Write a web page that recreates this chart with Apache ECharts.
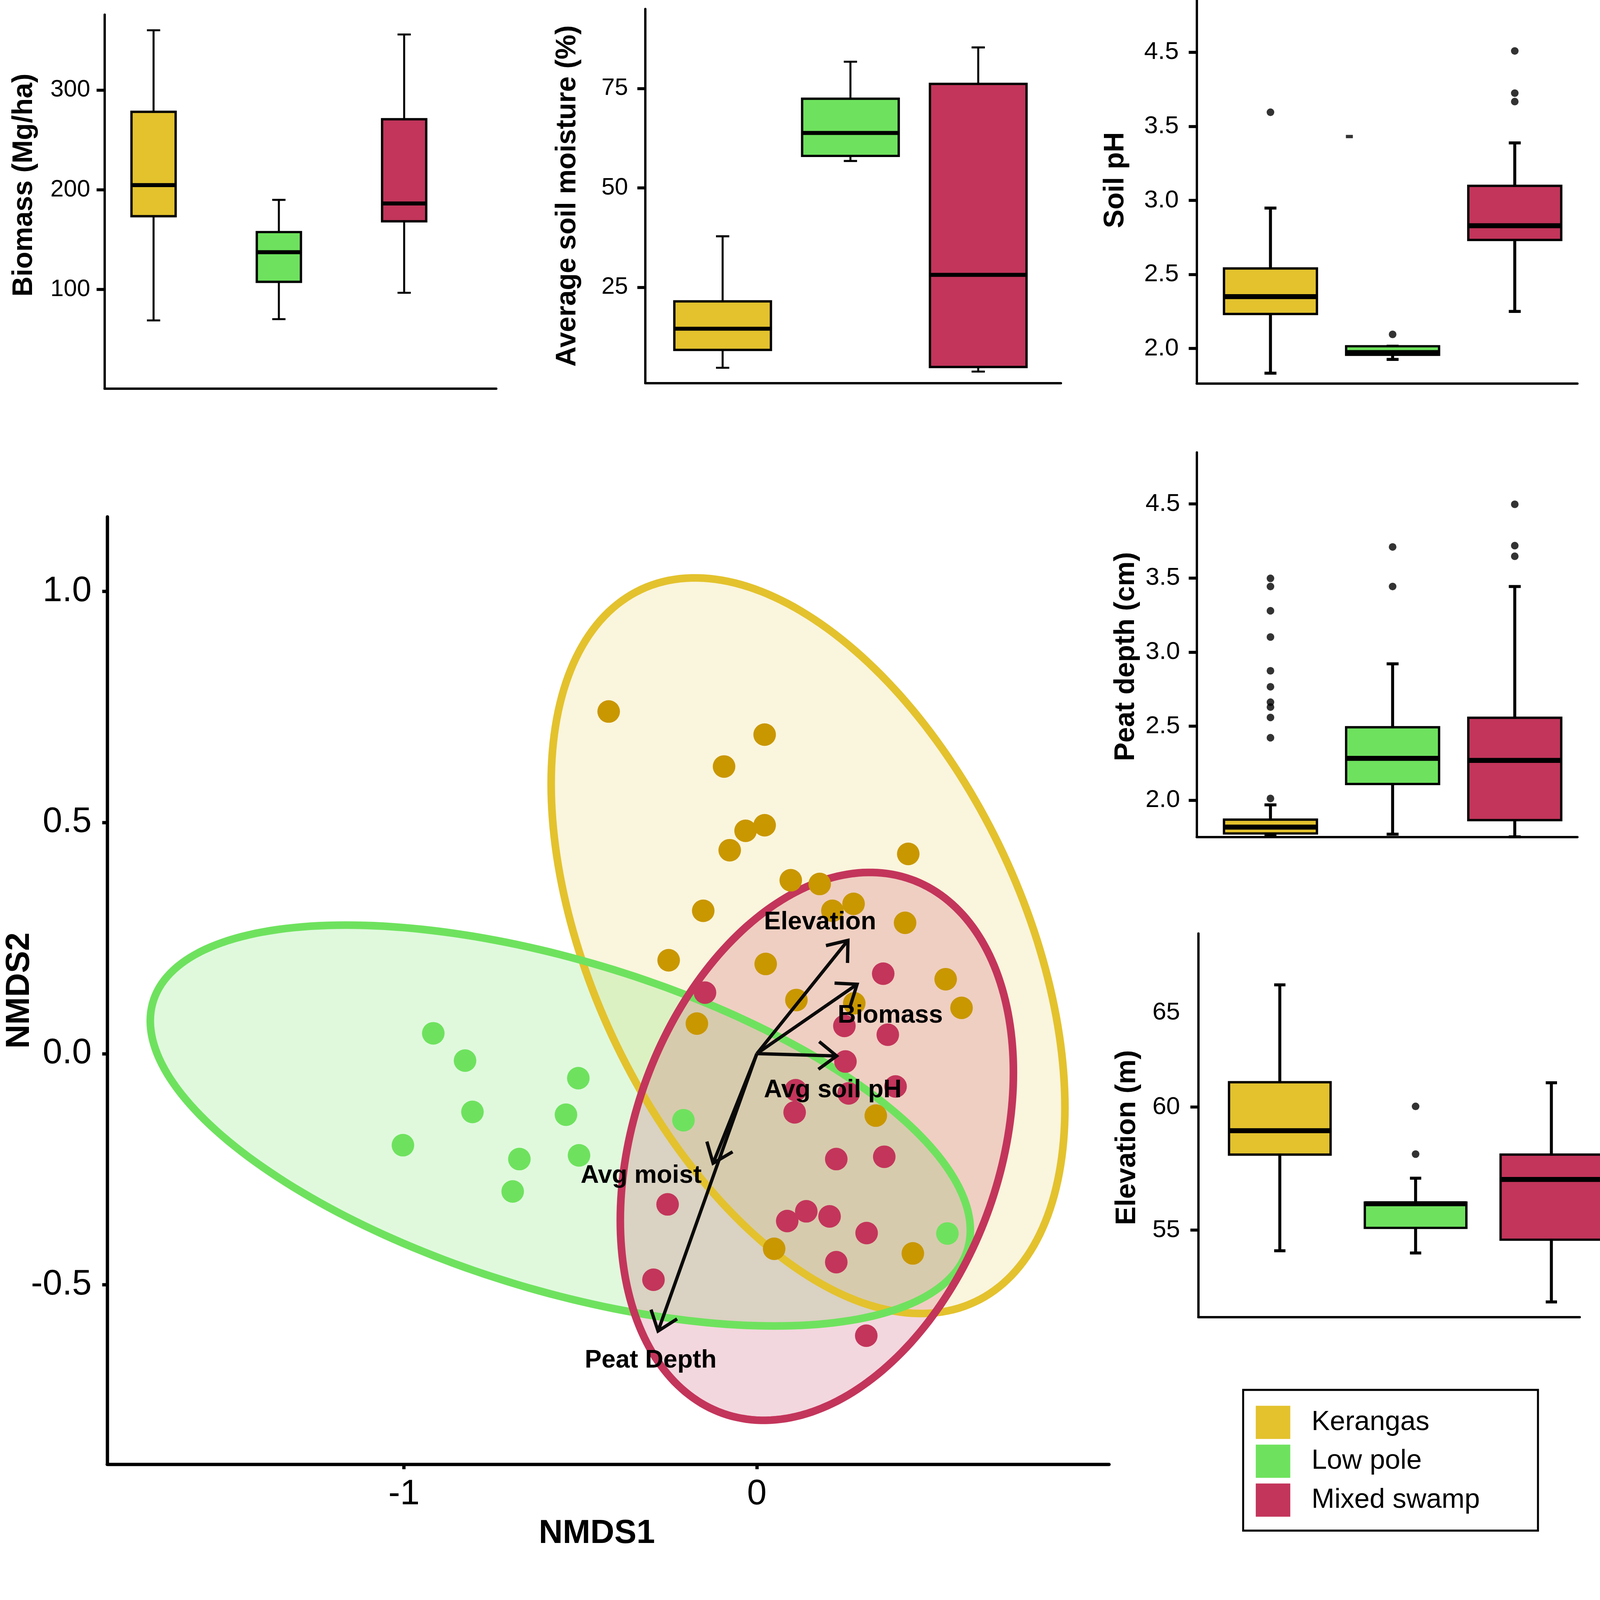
<!DOCTYPE html>
<html>
<head>
<meta charset="utf-8">
<script src="https://cdn.jsdelivr.net/npm/echarts@6/dist/echarts.min.js"></script>
<style>
  html, body { margin: 0; padding: 0; background: #fff; overflow: hidden; }
  #chart { width: 100vw; height: 100vh; }
</style>
</head>
<body>
<div id="chart"></div>
<script>
const groups = ['Kerangas', 'Low pole', 'Mixed swamp'];
const boxColors = ['#E3C22D', '#6EE25E', '#C3355B'];
const pointColors = ['#C99700', '#6EE25E', '#C3355B'];
const fillColors = ['rgba(227,194,45,0.16)', 'rgba(110,226,94,0.21)', 'rgba(195,53,91,0.2)'];

// box stats per group: [min, q1, median, q3, max]
const biomassStats = [[69, 173.5, 204.7, 278.2, 360], [70.3, 107.7, 137.4, 157.6, 189.9], [96.7, 168.4, 186.3, 270.8, 355.8]];
const moistureStats = [[4.78, 9.27, 14.6, 21.47, 37.84], [56.77, 58.05, 63.83, 72.43, 81.74], [3.82, 4.97, 28.14, 76.16, 85.33]];
const phStats = [[1.833, 2.233, 2.35, 2.54, 2.948], [1.926, 1.957, 1.972, 2.015, 2.015], [2.25, 2.733, 2.829, 3.098, 3.388]];
const peatStats = [[1.762, 1.776, 1.819, 1.869, 1.969], [1.771, 2.11, 2.283, 2.493, 2.921], [1.753, 1.866, 2.269, 2.557, 3.443]];
const elevationStats = [[54.16, 58.07, 59.04, 61.01, 64.97], [54.07, 55.09, 56.07, 56.12, 57.11], [52.08, 54.61, 57.06, 58.07, 60.99]];

// outliers: [group number, value]
const phOutliers = [[1, 3.595], [2, 2.095], [3, 4.009], [3, 3.724], [3, 3.667]];
const phStray = [[1.646, 3.431]];
const peatOutliers = [[1, 3.498], [1, 3.443], [1, 3.279], [1, 3.102], [1, 2.874], [1, 2.766], [1, 2.662], [1, 2.629], [1, 2.559], [1, 2.422], [1, 2.012],
  [2, 3.71], [2, 3.443], [3, 3.998], [3, 3.719], [3, 3.647]];
const elevationOutliers = [[2, 60.03], [2, 58.09]];

// tick positions and labels
const biomassTicks = [100, 200, 300];
const biomassTickLabels = ['100', '200', '300'];
const moistureTicks = [25, 50, 75];
const moistureTickLabels = ['25', '50', '75'];
const phTicks = [2, 2.5, 3, 3.5, 4];
const phTickLabels = ['2.0', '2.5', '3.0', '3.5', '4.5'];
const peatTicks = [2, 2.5, 3, 3.5, 4];
const peatTickLabels = ['2.0', '2.5', '3.0', '3.5', '4.5'];
const elevationTicks = [55, 60];
const elevationLabelPos = [55, 60, 63.84];
const elevationTickLabels = ['55', '60', '65'];
const nmds1Ticks = [-1, 0];
const nmds1TickLabels = ['-1', '0'];
const nmds2Ticks = [-0.5, 0, 0.5, 1];
const nmds2TickLabels = ['-0.5', '0.0', '0.5', '1.0'];

// NMDS site scores
const kerangasPts = [[-0.420, 0.740], [0.022, 0.690], [-0.093, 0.621], [-0.032, 0.482], [0.022, 0.494], [-0.077, 0.440], [0.429, 0.432],
  [0.096, 0.375], [0.178, 0.367], [-0.152, 0.309], [0.214, 0.309], [0.274, 0.324], [0.420, 0.283], [-0.250, 0.202], [0.025, 0.194],
  [0.112, 0.116], [0.276, 0.109], [0.535, 0.161], [0.580, 0.099], [-0.170, 0.065], [0.337, -0.134], [0.049, -0.422], [0.442, -0.432]];
const lowPolePts = [[-0.917, 0.044], [-0.827, -0.015], [-0.506, -0.053], [-0.806, -0.126], [-0.541, -0.132], [-1.003, -0.198],
  [-0.673, -0.228], [-0.504, -0.220], [-0.692, -0.298], [-0.208, -0.144], [0.540, -0.389]];
const mixedSwampPts = [[-0.147, 0.132], [0.358, 0.173], [0.248, 0.060], [0.371, 0.041], [0.251, -0.017], [0.110, -0.079], [0.260, -0.086],
  [0.393, -0.071], [0.107, -0.127], [0.225, -0.228], [0.361, -0.223], [-0.253, -0.326], [0.086, -0.362], [0.140, -0.341], [0.206, -0.352],
  [0.311, -0.388], [0.225, -0.451], [-0.293, -0.489], [0.310, -0.610]];

// ellipses: [centre x, centre y, sd x, sd y, correlation]
const kerangasEllipse = [0.145, 0.2335, 0.728, 0.7955, -0.44];
const lowPoleEllipse = [-0.557, -0.1555, 1.162, 0.4335, -0.5225];
const mixedSwampEllipse = [0.170, -0.2005, 0.557, 0.5925, 0.27];

// fitted environmental vectors
const vectorNames = ['Elevation', 'Biomass', 'Avg soil pH', 'Avg moist', 'Peat Depth'];
const vectorOrigin = [0, 0];
const vectorTips = [[0.258, 0.245], [0.284, 0.150], [0.226, -0.005], [-0.124, -0.237], [-0.280, -0.600]];
const vectorLabelPos = [[0.179, 0.284], [0.378, 0.082], [0.215, -0.079], [-0.328, -0.264], [-0.301, -0.664]];

const FONT = 'Liberation Sans';

const dom = document.getElementById('chart');
// the layout below is written for a 4820 x 4690 page; scale it to the real viewport
const k = Math.min(dom.clientWidth / 4820, dom.clientHeight / 4690);
const S = v => v * k;

const panels = [
  { grid: [315, 44, 1180, 1127], x: [0.609, 3.735], y: [0.5, 375.7], stats: biomassStats, outliers: [],
    ticks: biomassTicks, labelPos: biomassTicks, labels: biomassTickLabels, name: 'Biomass (Mg/ha)', nameGap: 200, shift: -50,
    fs: 72, margin: 43, boxW: 133, capW: 40, whisker: 6, median: 12 },
  { grid: [1944, 27, 1252, 1127], x: [0.395, 3.647], y: [0.93, 95], stats: moistureStats, outliers: [],
    ticks: moistureTicks, labelPos: moistureTicks, labels: moistureTickLabels, name: 'Average soil moisture (%)', nameGap: 192, shift: 0,
    fs: 72, margin: 52, boxW: 291, capW: 40, whisker: 6, median: 12 },
  { grid: [3605, 0, 1147, 1155], x: [0.396, 3.513], y: [1.764, 4.353], stats: phStats, outliers: phOutliers,
    ticks: phTicks, labelPos: phTicks, labels: phTickLabels, name: 'Soil pH', nameGap: 202, shift: -35,
    fs: 75, margin: 54, boxW: 280, capW: 36, whisker: 9, median: 15 },
  { grid: [3605, 1363, 1147, 1158], x: [0.396, 3.513], y: [1.753, 4.348], stats: peatStats, outliers: peatOutliers,
    ticks: peatTicks, labelPos: peatTicks, labels: peatTickLabels, name: 'Peat depth (cm)', nameGap: 170, shift: 36,
    fs: 75, margin: 50, boxW: 280, capW: 36, whisker: 9, median: 15 },
  { grid: [3610, 2812, 1149, 1156], x: [0.4, 3.209], y: [51.46, 67.06], stats: elevationStats, outliers: elevationOutliers,
    ticks: elevationTicks, labelPos: elevationLabelPos, labels: elevationTickLabels, name: 'Elevation (m)', nameGap: 172, shift: 37,
    fs: 75, margin: 55, boxW: 306, capW: 34, whisker: 9, median: 15 }
];

function gridBox(g) {
  return { left: S(g[0]), top: S(g[1]), width: S(g[2]), height: S(g[3]), outerBoundsMode: 'none', containLabel: false };
}

function boxRenderer(p) {
  return function (params, api) {
    const x = api.value(0);
    const lo = api.coord([x, api.value(1)]);
    const q1 = api.coord([x, api.value(2)]);
    const md = api.coord([x, api.value(3)]);
    const q3 = api.coord([x, api.value(4)]);
    const hi = api.coord([x, api.value(5)]);
    const cx = lo[0], hw = S(p.boxW) / 2, cw = S(p.capW) / 2;
    const ws = { stroke: '#000', lineWidth: S(p.whisker) };
    return {
      type: 'group',
      children: [
        { type: 'line', shape: { x1: cx, y1: hi[1], x2: cx, y2: q3[1] }, style: ws },
        { type: 'line', shape: { x1: cx, y1: q1[1], x2: cx, y2: lo[1] }, style: ws },
        { type: 'line', shape: { x1: cx - cw, y1: hi[1], x2: cx + cw, y2: hi[1] }, style: ws },
        { type: 'line', shape: { x1: cx - cw, y1: lo[1], x2: cx + cw, y2: lo[1] }, style: ws },
        { type: 'rect', shape: { x: cx - hw, y: q3[1], width: 2 * hw, height: q1[1] - q3[1] },
          style: { fill: boxColors[params.dataIndex], stroke: '#000', lineWidth: S(7) } },
        { type: 'line', shape: { x1: cx - hw, y1: md[1], x2: cx + hw, y2: md[1] }, style: { stroke: '#000', lineWidth: S(p.median) } }
      ]
    };
  };
}

function labelFormatter(pos, labels) {
  return v => {
    const i = pos.findIndex(t => Math.abs(t - v) < 1e-9);
    return i < 0 ? '' : labels[i];
  };
}

const grids = [], xAxes = [], yAxes = [], series = [];

panels.forEach((p, gi) => {
  grids.push(gridBox(p.grid));
  xAxes.push({
    type: 'value', gridIndex: gi, min: p.x[0], max: p.x[1],
    axisLine: { show: true, onZero: false, lineStyle: { color: '#000', width: S(7) } },
    axisTick: { show: false }, axisLabel: { show: false }, splitLine: { show: false }
  });
  const pad = p.shift < 0 ? [0, 0, 0, S(-2 * p.shift)] : [0, S(2 * p.shift), 0, 0];
  yAxes.push({
    type: 'value', gridIndex: gi, min: p.y[0], max: p.y[1],
    axisLine: { show: true, onZero: false, lineStyle: { color: '#000', width: S(7) } },
    axisTick: { show: true, customValues: p.ticks, length: S(24), lineStyle: { color: '#000', width: S(9) } },
    axisLabel: { show: true, customValues: p.labelPos, formatter: labelFormatter(p.labelPos, p.labels),
      fontSize: S(p.fs), fontFamily: FONT, color: '#000', margin: S(p.margin) },
    splitLine: { show: false },
    name: p.name, nameLocation: 'middle', nameRotate: 90, nameGap: S(p.nameGap), nameMoveOverlap: false,
    nameTextStyle: { fontSize: S(84), fontWeight: 'bold', fontFamily: FONT, color: '#000', padding: pad }
  });
  series.push({
    type: 'custom', xAxisIndex: gi, yAxisIndex: gi,
    renderItem: boxRenderer(p),
    encode: { x: 0, y: [1, 2, 3, 4, 5] },
    data: p.stats.map((s, i) => [i + 1].concat(s))
  });
  if (p.outliers.length) {
    series.push({
      type: 'scatter', xAxisIndex: gi, yAxisIndex: gi, symbolSize: S(23),
      itemStyle: { color: '#000' }, data: p.outliers
    });
  }
});

// stray dash in the soil pH panel
series.push({
  type: 'scatter', xAxisIndex: 2, yAxisIndex: 2, symbol: 'rect', symbolSize: [S(21), S(10)],
  itemStyle: { color: '#000' }, data: phStray
});

// main NMDS panel
const M = panels.length;
grids.push(gridBox([323, 1557, 3018, 2854]));
xAxes.push({
  type: 'value', gridIndex: M, min: -1.841, max: 0.998,
  axisLine: { show: true, onZero: false, lineStyle: { color: '#000', width: S(10) } },
  axisTick: { show: true, customValues: nmds1Ticks, length: S(15), lineStyle: { color: '#000', width: S(10) } },
  axisLabel: { show: true, customValues: nmds1Ticks, formatter: labelFormatter(nmds1Ticks, nmds1TickLabels),
    fontSize: S(106), fontFamily: FONT, color: '#000', margin: S(38) },
  splitLine: { show: false },
  name: 'NMDS1', nameLocation: 'middle', nameGap: S(160), nameMoveOverlap: false,
  nameTextStyle: { fontSize: S(100), fontWeight: 'bold', fontFamily: FONT, color: '#000', padding: [0, S(68), 0, 0] }
});
yAxes.push({
  type: 'value', gridIndex: M, min: -0.888, max: 1.161,
  axisLine: { show: true, onZero: false, lineStyle: { color: '#000', width: S(10) } },
  axisTick: { show: true, customValues: nmds2Ticks, length: S(15), lineStyle: { color: '#000', width: S(10) } },
  axisLabel: { show: true, customValues: nmds2Ticks, formatter: labelFormatter(nmds2Ticks, nmds2TickLabels),
    fontSize: S(106), fontFamily: FONT, color: '#000', margin: S(47) },
  splitLine: { show: false },
  name: 'NMDS2', nameLocation: 'middle', nameRotate: 90, nameGap: S(214), nameMoveOverlap: false,
  nameTextStyle: { fontSize: S(100), fontWeight: 'bold', fontFamily: FONT, color: '#000' }
});

const ellipses = [kerangasEllipse, lowPoleEllipse, mixedSwampEllipse];

function ellipsePoints(api) {
  const cx = api.value(0), cy = api.value(1), sx = api.value(2), sy = api.value(3), r = api.value(4);
  const s = Math.sqrt(1 - r * r);
  const pts = [];
  for (let i = 0; i <= 240; i++) {
    const t = 2 * Math.PI * i / 240;
    pts.push(api.coord([cx + sx * Math.cos(t), cy + sy * (r * Math.cos(t) + s * Math.sin(t))]));
  }
  return pts;
}

series.push({
  type: 'custom', xAxisIndex: M, yAxisIndex: M, z: 1,
  encode: { x: 0, y: 1 },
  data: ellipses,
  renderItem: (params, api) => ({
    type: 'polygon', shape: { points: ellipsePoints(api) },
    style: { fill: fillColors[params.dataIndex], stroke: null }
  })
});
series.push({
  type: 'custom', xAxisIndex: M, yAxisIndex: M, z: 2,
  encode: { x: 0, y: 1 },
  data: ellipses,
  renderItem: (params, api) => ({
    type: 'polygon', shape: { points: ellipsePoints(api) },
    style: { fill: null, stroke: boxColors[params.dataIndex], lineWidth: S(23) }
  })
});

[kerangasPts, lowPolePts, mixedSwampPts].forEach((pts, i) => {
  series.push({
    name: groups[i], type: 'scatter', xAxisIndex: M, yAxisIndex: M, z: 3,
    symbolSize: S(68), itemStyle: { color: pointColors[i], opacity: 1 }, data: pts
  });
});

series.push({
  type: 'custom', xAxisIndex: M, yAxisIndex: M, z: 4,
  encode: { x: [0, 2], y: [1, 3] },
  data: vectorTips.map(t => vectorOrigin.concat(t)),
  renderItem: (params, api) => {
    const p0 = api.coord([api.value(0), api.value(1)]);
    const p1 = api.coord([api.value(2), api.value(3)]);
    const ang = Math.atan2(p1[1] - p0[1], p1[0] - p0[0]);
    const L = S(68), a = 0.66;
    const h1 = [p1[0] - L * Math.cos(ang - a), p1[1] - L * Math.sin(ang - a)];
    const h2 = [p1[0] - L * Math.cos(ang + a), p1[1] - L * Math.sin(ang + a)];
    return {
      type: 'group',
      children: [
        { type: 'line', shape: { x1: p0[0], y1: p0[1], x2: p1[0], y2: p1[1] }, style: { stroke: '#0a0a0a', lineWidth: S(10) } },
        { type: 'polyline', shape: { points: [h1, p1, h2] }, style: { stroke: '#0a0a0a', lineWidth: S(10), fill: null } }
      ]
    };
  }
});

series.push({
  type: 'custom', xAxisIndex: M, yAxisIndex: M, z: 5,
  encode: { x: 0, y: 1 },
  data: vectorLabelPos,
  renderItem: (params, api) => {
    const p = api.coord([api.value(0), api.value(1)]);
    return {
      type: 'text',
      style: { x: p[0], y: p[1], text: vectorNames[params.dataIndex], fill: '#000',
        font: 'bold ' + S(76) + 'px "' + FONT + '"', align: 'center', verticalAlign: 'middle' }
    };
  }
});

const chart = echarts.init(dom);
chart.setOption({
  animation: false,
  backgroundColor: '#fff',
  grid: grids,
  xAxis: xAxes,
  yAxis: yAxes,
  legend: {
    orient: 'vertical', left: S(3745), top: S(4187),
    data: groups.map((g, i) => ({ name: g, icon: 'rect', itemStyle: { color: boxColors[i] } })),
    itemWidth: S(104), itemHeight: S(100), itemGap: S(17),
    padding: [S(48), S(175), S(42), S(38)],
    borderColor: '#000', borderWidth: S(6),
    selectedMode: false,
    textStyle: { fontSize: S(83), fontFamily: FONT, color: '#000', padding: [0, 0, 0, S(58)] }
  },
  series: series
});
</script>
</body>
</html>
